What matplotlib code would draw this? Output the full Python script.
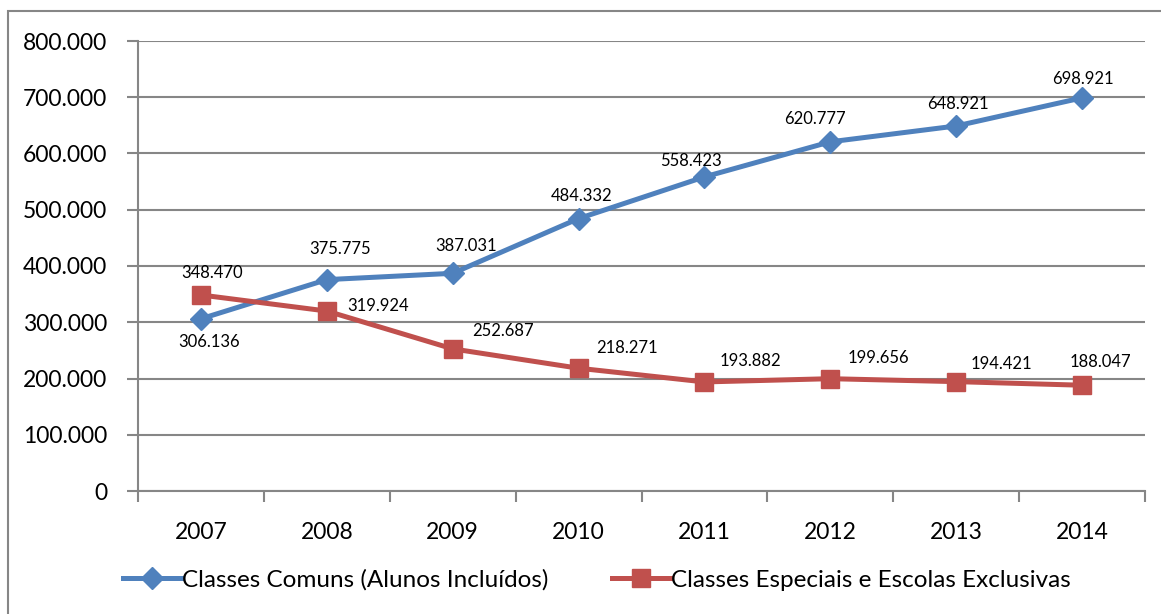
import matplotlib.pyplot as plt
from matplotlib.patches import Rectangle
from matplotlib.ticker import FuncFormatter, FixedLocator

# data
anos = ['2007', '2008', '2009', '2010', '2011', '2012', '2013', '2014']
comuns = [306136, 375775, 387031, 484332, 558423, 620777, 648921, 698921]
especiais = [348470, 319924, 252687, 218271, 193882, 199656, 194421, 188047]
nome_comuns = 'Classes Comuns (Alunos Incluídos)'
nome_especiais = 'Classes Especiais e Escolas Exclusivas'

# label offsets in pixels (dx, dy up)
off_comuns = [(8, -23), (13, 31), (13, 27), (3, 23), (-14, 16), (-15, 23), (2, 22), (1, 19)]
off_especiais = [(11, 22), (51, 5), (50, 18), (48, 20), (46, 21), (48, 21), (45, 18), (18, 23)]

azul = '#4F81BD'
vermelho = '#C0504D'
cinza = '#868686'

plt.rcParams['font.family'] = ['Lato', 'DejaVu Sans']

def fmt(v):
    return f'{v:,.0f}'.replace(',', '.')

fig = plt.figure(figsize=(11.61, 6.14), dpi=100)
ax = fig.add_axes([138/1161, 1-491/614, (1145-138)/1161, (491-41)/614])

x = range(len(anos))
ax.plot(x, comuns, color=azul, lw=3.6, marker='D', ms=11, label=nome_comuns, zorder=3)
ax.plot(x, especiais, color=vermelho, lw=3.6, marker='s', ms=13, label=nome_especiais, zorder=3)

for i, v in enumerate(comuns):
    ax.annotate(fmt(v), (i, v), xytext=off_comuns[i], textcoords='offset pixels',
                ha='center', va='center', fontsize=12)
for i, v in enumerate(especiais):
    ax.annotate(fmt(v), (i, v), xytext=off_especiais[i], textcoords='offset pixels',
                ha='center', va='center', fontsize=12)

ax.set_xlim(-0.5, len(anos) - 0.5)
ax.set_ylim(0, 800000)
ax.set_yticks(range(0, 800001, 100000))
ax.yaxis.set_major_formatter(FuncFormatter(lambda v, p: fmt(v)))
ax.set_xticks(list(x))
ax.set_xticklabels(anos)
ax.xaxis.set_minor_locator(FixedLocator([i - 0.5 for i in range(len(anos) + 1)]))
ax.tick_params(axis='x', which='major', length=0, labelsize=16.5, pad=22)
ax.tick_params(axis='x', which='minor', length=8, width=1.5, color=cinza)
ax.tick_params(axis='y', length=8, width=1.5, color=cinza, labelsize=16.5, pad=14)
ax.grid(axis='y', color=cinza, lw=1.5)
ax.set_axisbelow(True)
for s in ['top', 'right']:
    ax.spines[s].set_visible(False)
for s in ['left', 'bottom']:
    ax.spines[s].set_color(cinza)
    ax.spines[s].set_linewidth(1.5)

fig.legend(loc='center', bbox_to_anchor=(0.514, 0.055), ncol=2, frameon=False,
           fontsize=17.5, handlelength=2.4, handletextpad=0.05, columnspacing=2.6)

fig.patches.append(Rectangle((8/1161, -0.1), 1.2, 1.1 - 11/614, transform=fig.transFigure,
                             fill=False, edgecolor=cinza, lw=1.5))

fig.savefig('out.png', dpi=100)
